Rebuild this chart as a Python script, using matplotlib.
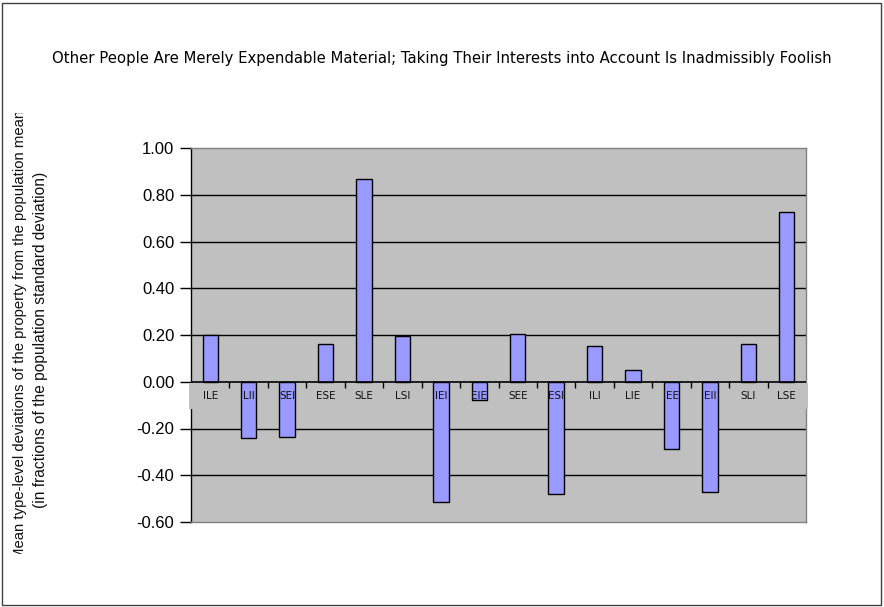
import matplotlib
matplotlib.use("Agg")
import matplotlib.pyplot as plt
from matplotlib.patches import Rectangle
from matplotlib.transforms import Bbox, TransformedBbox
import matplotlib.markers as mmarkers

categories = ["ILE", "LII", "SEI", "ESE", "SLE", "LSI", "IEI", "EIE",
              "SEE", "ESI", "ILI", "LIE", "IEE", "EII", "SLI", "LSE"]
values = [0.20, -0.24, -0.237, 0.161, 0.868, 0.195, -0.515, -0.080,
          0.204, -0.481, 0.153, 0.050, -0.288, -0.472, 0.161, 0.727]
yticks = [-0.60, -0.40, -0.20, 0.00, 0.20, 0.40, 0.60, 0.80, 1.00]
title = "Other People Are Merely Expendable Material; Taking Their Interests into Account Is Inadmissibly Foolish"
ylabel1 = "Mean type-level deviations of the property from the population mean"
ylabel2 = "(in fractions of the population standard deviation)"

W, H = 884, 607
fig = plt.figure(figsize=(W / 100, H / 100), dpi=100)
fig.patch.set_facecolor("white")

# figure border
fig.add_artist(Rectangle((2 / W, 2 / H), (W - 5) / W, (H - 5) / H, transform=fig.transFigure,
                         fill=False, edgecolor="#404040", linewidth=1.0))

L, R, T, B = 191, 806, 148, 522
ax = fig.add_axes([L / W, (H - B) / H, (R - L) / W, (B - T) / H])
ax.set_facecolor("#c0c0c0")
ax.set_xlim(-0.5, len(categories) - 0.5)
ax.set_ylim(-0.6, 1.0)

for s in ["top", "right", "bottom"]:
    ax.spines[s].set_color("#808080")
    ax.spines[s].set_linewidth(1.0)
ax.spines["left"].set_color("black")
ax.spines["left"].set_linewidth(1.0)

for yv in yticks:
    if yv not in (-0.6, 0.0, 1.0):
        ax.axhline(yv, color="black", linewidth=1.0, zorder=1)

ax.set_yticks(yticks)
ax.set_yticklabels([f"{v:.2f}" for v in yticks], fontfamily="Liberation Sans", fontsize=12)
ax.tick_params(axis="y", direction="out", length=8, width=1.0, pad=4, color="black")
ax.set_xticks([])

# label band
xs = list(range(len(categories)))
band_top = 383
band_bot = 409
ax.add_artist(Rectangle(((L - 2) / W, (H - band_bot) / H), (R - L + 4) / W, (band_bot - band_top) / H,
                        transform=fig.transFigure, facecolor="#c0c0c0", edgecolor="none",
                        zorder=2.6, clip_on=False))

ax.bar(xs, values, width=0.4, color="#9999ff", edgecolor="black", linewidth=1.0, zorder=3)
ax.axhline(0, color="black", linewidth=1.2, zorder=3.5)
bounds = [i + 0.5 for i in range(len(categories) - 1)]
ax.plot(bounds, [0] * len(bounds), linestyle="none", marker=mmarkers.TICKDOWN,
        markersize=4, color="black", zorder=3.5, clip_on=False)

for x, c in zip(xs, categories):
    ax.text(x, -0.06, c, ha="center", va="center", fontsize=7.5, fontfamily="DejaVu Sans",
            color="#111111", zorder=5)

fig.text(442 / W, 1 - 58 / H, title, ha="center", va="center", fontsize=10.75, fontfamily="DejaVu Sans")

t1 = fig.text(20 / W, 1 - 334.5 / H, ylabel1, rotation=90, ha="center", va="center", fontsize=10.7,
              fontfamily="Liberation Sans", color="#111111")
clip = TransformedBbox(Bbox([[0, (H - 554) / H], [1, (H - 113) / H]]), fig.transFigure)
t1.set_clip_box(clip)
t1.set_clip_on(True)
fig.text(41 / W, 1 - 340 / H, ylabel2, rotation=90, ha="center", va="center", fontsize=11.2,
         fontfamily="Liberation Sans", color="#111111")

fig.savefig("out.png", dpi=100)
